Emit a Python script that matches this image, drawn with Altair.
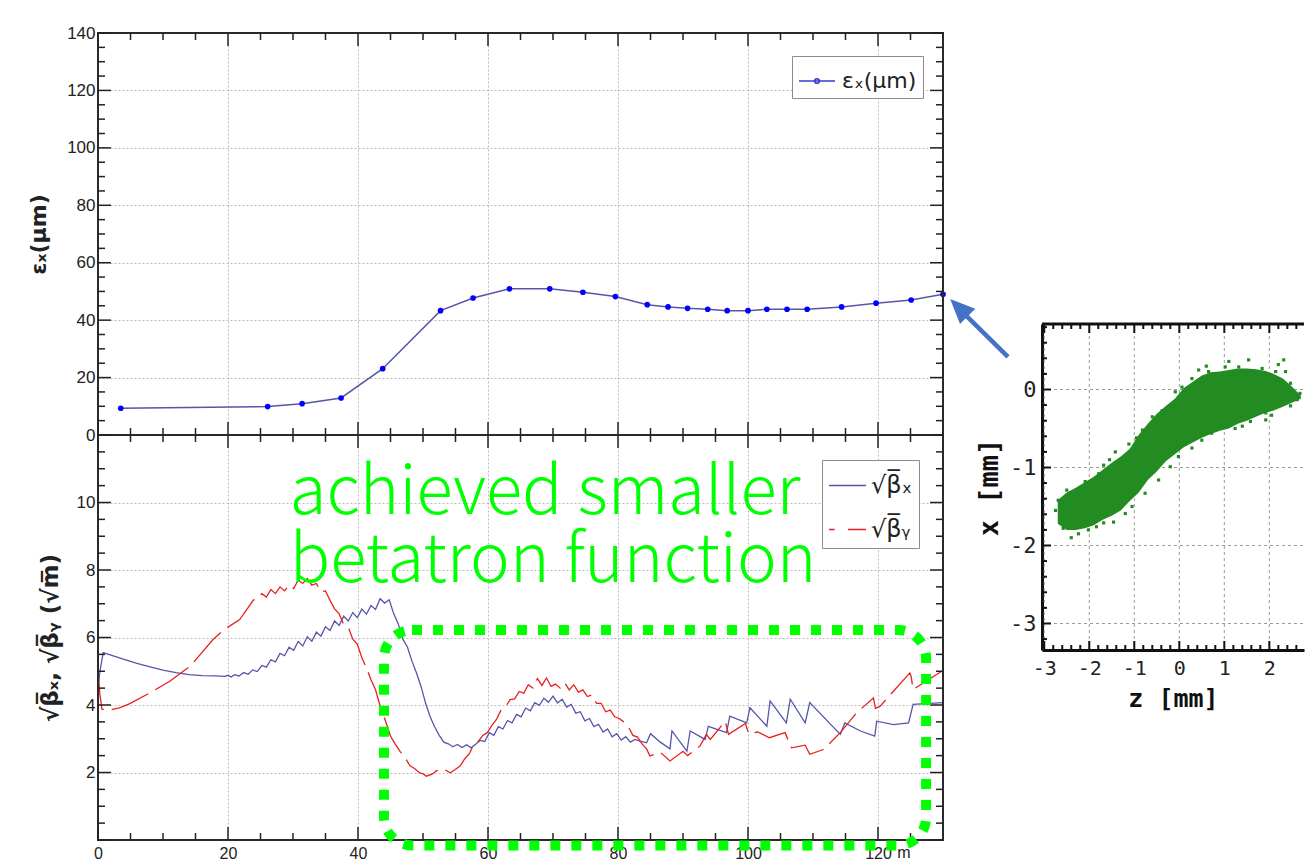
import altair as alt
import pandas as pd

# ---------------- data ----------------
# horizontal emittance along the line (s in m, eps_x in um)
ex_s = [3.5, 26.1, 31.4, 37.4, 43.8, 52.7, 57.7, 63.3, 69.5, 74.6, 79.6, 84.5,
        87.7, 90.7, 93.8, 96.8, 100.0, 102.9, 106.0, 109.1, 114.4, 119.7, 125.1, 130.0]
ex_v = [9.3, 9.9, 10.9, 12.9, 23.1, 43.3, 47.7, 50.9, 50.9, 49.7, 48.2, 45.4,
        44.6, 44.1, 43.8, 43.3, 43.3, 43.8, 43.8, 43.8, 44.6, 45.9, 47.0, 49.0]

# sqrt(beta_x) along the line
bx_s = [0, 0.3, 0.8, 2, 4, 6, 8, 10, 12, 14, 16, 18, 19.5, 20.0, 20.5,
        21.0, 21.7, 22.4, 23.1, 23.8, 24.5, 25.2, 25.9, 26.6, 27.3,
        28.0, 28.7, 29.4, 30.1, 30.8, 31.5, 32.2, 32.9, 33.6, 34.3,
        35.0, 35.7, 36.4, 37.1, 37.8, 38.5, 39.2, 39.9, 40.6, 41.3,
        42.0, 42.7, 43.4, 44.1, 44.8, 45.5, 46.2, 46.9, 47.6, 48.3,
        49.0, 49.7, 50.4, 51.1, 51.8, 52.5, 53.2, 53.9,
        54.6, 55.3, 56.0, 56.7, 57.4, 58.1, 58.8, 59.5,
        60.2, 60.9, 61.6, 62.3, 63.0, 63.7, 64.4, 65.1,
        65.8, 66.5, 67.2, 67.9, 68.6, 69.3, 70.0, 70.7,
        71.4, 72.1, 72.8, 73.5, 74.2, 74.9, 75.6, 76.3,
        77.0, 77.7, 78.4, 79.1, 79.8, 80.5, 81.2, 81.9, 82.6,
        83.4, 84.4, 85.0, 86.5, 88.0, 88.3, 90.6, 91.1, 93.4, 93.9,
        96.7, 97.2, 99.8, 100.3, 102.9, 103.4, 105.9, 106.5, 108.8, 109.5,
        114.2, 114.9, 117.3, 119.5, 119.8, 122.4, 124.7, 125.4, 130.0]
bx_v = [4.5, 5.0, 5.55, 5.48, 5.35, 5.23, 5.13, 5.03, 4.96, 4.9, 4.87, 4.86, 4.85, 4.88, 4.83,
        4.9, 4.86, 4.96, 4.91, 5.04, 4.99, 5.17, 5.12, 5.34, 5.28,
        5.53, 5.46, 5.71, 5.62, 5.88, 5.75, 6.02, 5.89, 6.16, 6.04,
        6.32, 6.21, 6.49, 6.36, 6.63, 6.49, 6.74, 6.59, 6.84, 6.69,
        6.95, 6.83, 7.15, 7.02, 7.12, 6.7, 6.4, 5.95, 5.72, 5.3,
        4.95, 4.55, 4.05, 3.65, 3.35, 3.1, 2.9, 2.85,
        2.76, 2.83, 2.74, 2.82, 2.73, 2.84, 2.95, 2.92,
        3.18, 3.1, 3.36, 3.29, 3.54, 3.47, 3.72, 3.65,
        3.91, 3.83, 4.07, 3.99, 4.2, 4.08, 4.26, 4.06,
        4.17, 3.94, 4.02, 3.76, 3.8, 3.53, 3.6, 3.36,
        3.43, 3.2, 3.29, 3.06, 3.15, 2.96, 3.06, 2.9, 2.98,
        2.93, 2.88, 3.15, 2.9, 2.7, 3.23, 2.63, 3.23, 2.98, 3.37,
        3.18, 3.67, 3.47, 3.92, 3.37, 4.12, 3.47, 4.17, 3.47, 4.07,
        3.13, 3.47, 3.23, 3.08, 3.52, 3.42, 3.47, 4.02, 4.07]

# sqrt(beta_y) along the line
by_s = [0, 0.3, 0.6, 1.8, 3.4, 4.9, 8, 11.1, 14.2, 17.7, 19.3, 21.8, 23.9,
        24.5, 25.2, 25.9, 26.6, 27.3, 28.0, 28.7, 29.4, 30.1, 30.8,
        31.5, 32.2, 32.9, 33.6, 34.3, 35.0, 35.7, 36.4, 37.1, 37.8,
        38.5, 39.2, 39.9, 40.6, 41.3, 42.0, 42.7, 43.4, 44.1,
        45.0, 45.7, 46.5, 47.2, 48.0, 48.7, 49.4, 50.1, 50.5,
        51.4, 52.1, 52.8, 53.5, 54.2, 54.9,
        55.7, 56.4, 57.1, 57.8, 58.5, 59.2, 59.9, 60.6, 61.3, 62.0,
        62.7, 63.4, 64.1, 64.8, 65.5, 66.2, 66.9, 67.6, 68.3, 69.0,
        69.7, 70.4, 71.1, 71.8, 72.5, 73.2, 73.9, 74.6, 75.3, 76.0,
        76.7, 77.4, 78.1, 78.8, 79.5, 80.2, 80.9, 81.6, 82.3, 83.0,
        83.7, 84.4, 84.9,
        86.5, 88.0, 90.0, 90.7, 92.6, 93.6, 94.2, 96.5, 97.0, 99.6,
        100.1, 101.5, 103.3, 105.7, 106.7, 108.8, 109.5, 111.6, 114.2, 116.7,
        119.3, 119.6, 120.3, 124.9, 125.1, 125.4, 129.8]
by_v = [5.0, 4.3, 3.88, 3.85, 3.92, 4.04, 4.36, 4.71, 5.15, 5.94, 6.22, 6.53, 7.11,
        7.15, 7.3, 7.2, 7.42, 7.3, 7.5, 7.38, 7.55, 7.45, 7.7,
        7.6, 7.75, 7.55, 7.6, 7.35, 7.38, 7.1, 6.85, 6.7, 6.38,
        6.3, 5.95, 5.8, 5.4, 5.1, 4.75, 4.45, 3.97, 3.6,
        3.08, 2.85, 2.62, 2.45, 2.2, 2.12, 2.0, 1.95, 1.89,
        1.95, 2.06, 2.02, 2.07, 1.99, 2.08,
        2.19, 2.4, 2.55, 2.82, 2.92, 3.1, 3.18, 3.4, 3.57, 3.85,
        3.95, 4.16, 4.18, 4.4, 4.35, 4.6, 4.5, 4.78, 4.58, 4.8,
        4.55, 4.62, 4.5, 4.66, 4.45, 4.6, 4.38, 4.45, 4.25, 4.3,
        4.05, 4.05, 3.8, 3.85, 3.65, 3.6, 3.5, 3.35, 3.1, 3.05,
        2.85, 2.7, 2.49,
        2.6, 2.34, 2.63, 2.5, 2.78, 3.13, 2.98, 3.52, 3.13, 3.45,
        3.15, 3.2, 3.03, 3.18, 2.73, 2.81, 2.54, 2.68, 3.18, 3.77,
        4.21, 3.9, 3.96, 4.95, 4.85, 4.46, 5.0]

# bunch distribution at the end of the line (z, x in mm): dense core outline + stray particles
cloud_z = [-2.70, -2.50, -2.30, -2.10, -1.90, -1.70, -1.50, -1.30, -1.10, -0.90, -0.70, -0.50, -0.30, -0.10,
           0.10, 0.30, 0.50, 0.70, 0.90, 1.10, 1.30, 1.50, 1.70, 1.90, 2.10, 2.30, 2.50, 2.70]
cloud_top = [-1.42, -1.32, -1.26, -1.19, -1.12, -1.03, -0.94, -0.86, -0.76, -0.58, -0.44, -0.31, -0.21, -0.12,
             0.02, 0.10, 0.18, 0.22, 0.23, 0.25, 0.27, 0.27, 0.26, 0.24, 0.20, 0.14, 0.04, -0.08]
cloud_bot = [-1.72, -1.80, -1.80, -1.78, -1.74, -1.67, -1.62, -1.55, -1.43, -1.32, -1.16, -1.05, -0.92, -0.83,
             -0.74, -0.68, -0.62, -0.57, -0.53, -0.50, -0.44, -0.40, -0.35, -0.30, -0.27, -0.22, -0.17, -0.12]
halo_z = [-2.69, -2.61, -2.65, -2.58, -2.50, -2.24, -2.02, -1.84, -2.09, -1.79,
          -1.68, -1.46, -1.31, -1.42, -1.12, -0.82, -0.60, -0.38, -0.09, 0.06,
          0.28, 0.43, 0.65, 1.02, 1.54, 1.32, 1.84, 2.14, 2.32, 2.36,
          2.47, 2.55, 2.62, 2.47, 2.29, 1.92, 1.92, 1.58, 1.24, 0.95,
          0.72, 0.50, 0.28, -0.02, -0.20, -0.46, -0.76, -1.05, -1.20, -1.68,
          -2.75, -2.40, 2.68, 2.20, 1.10, -0.95, -1.55, 0.60, 2.05, 1.40]
halo_x = [-1.42, -1.53, -1.65, -1.78, -1.29, -1.85, -1.80, -1.76, -1.18, -1.08,
          -0.97, -1.70, -1.46, -0.80, -0.70, -0.52, -0.35, -0.27, -0.03, 0.03,
          0.14, 0.25, 0.23, 0.29, 0.38, 0.29, 0.27, 0.23, 0.38, 0.23,
          0.08, -0.04, -0.13, -0.21, -0.13, -0.30, -0.39, -0.41, -0.50, -0.48,
          -0.56, -0.65, -0.75, -0.86, -0.99, -1.16, -1.33, -1.50, -1.59, -1.71,
          -1.55, -1.90, -0.05, 0.32, 0.36, -0.62, -0.90, 0.30, -0.33, -0.47]

# tick positions
S_MAJOR = [0, 20, 40, 60, 80, 100, 120]
S_MINOR = [5, 10, 15, 25, 30, 35, 45, 50, 55, 65, 70, 75, 85, 90, 95, 105, 110, 115, 125]
EX_MAJOR = [0, 20, 40, 60, 80, 100, 120, 140]
EX_MINOR = [5, 10, 15, 25, 30, 35, 45, 50, 55, 65, 70, 75, 85, 90, 95, 105, 110, 115, 125, 130, 135]
B_MAJOR = [0, 2, 4, 6, 8, 10, 12]
B_LABELS = [2, 4, 6, 8, 10]
B_MINOR = [0.5, 1, 1.5, 2.5, 3, 3.5, 4.5, 5, 5.5, 6.5, 7, 7.5, 8.5, 9, 9.5, 10.5, 11, 11.5]
Z_MAJOR = [-3, -2, -1, 0, 1, 2]
Z_MINOR = [-2.8, -2.6, -2.4, -2.2, -1.8, -1.6, -1.4, -1.2, -0.8, -0.6, -0.4, -0.2,
           0.2, 0.4, 0.6, 0.8, 1.2, 1.4, 1.6, 1.8, 2.2, 2.4, 2.6]
X_MAJOR = [-3, -2, -1, 0]
X_MINOR = [-3.2, -2.8, -2.6, -2.4, -2.2, -1.8, -1.6, -1.4, -1.2, -0.8, -0.6, -0.4, -0.2,
           0.2, 0.4, 0.6, 0.8]

# annotation anchors (in data units of the panel they sit on)
NOTE_S, NOTE_V = 29.5, 9.67
BOX = dict(s1=[44.0], s2=[127.4], v1=[6.22], v2=[-0.16])
ARROW_TAIL = (140.0, 27.2)
ARROW_NECK = (133.6, 41.5)
ARROW_TIP = (131.1, 47.4)

# ---------------- layout (pixel boxes of the three panels) ----------------
PW = 845                      # width of the two stacked panels
TOP_Y0, TOP_Y1 = 0, 402       # emittance panel
BOT_Y0, BOT_Y1 = 402, 807     # beta panel
INS_X0, INS_X1 = 944, 1206    # bunch inset
INS_Y0, INS_Y1 = 291, 617
WT, HT = INS_X1, BOT_Y1

LABEL_FONT = "Liberation Sans"
SYM_FONT = "DejaVu Sans"
MONO = "DejaVu Sans Mono"
INK = "#222222"
BLUE_LINE = "#5656a8"
RED_LINE = "#e82020"
GREEN = "#00ff00"
BUNCH = "#228b22"

s_scale = alt.Scale(domain=[0, 130], range=[0, PW], nice=False, zero=False)
ex_scale = alt.Scale(domain=[0, 140], range=[TOP_Y1, TOP_Y0], nice=False, zero=False)
b_scale = alt.Scale(domain=[0, 12], range=[BOT_Y1, BOT_Y0], nice=False, zero=False)
z_scale = alt.Scale(domain=[-3.05, 2.77], range=[INS_X0, INS_X1], nice=False, zero=False)
x_scale = alt.Scale(domain=[-3.34, 0.84], range=[INS_Y1, INS_Y0], nice=False, zero=False)

LINE_DOT = "M-1,0H1M-0.13,0A0.13,0.13,0,1,0,0.13,0A0.13,0.13,0,1,0,-0.13,0Z"
SOLID = "M-1,0H1"
DASHED = "M-1,0H-0.69M0.03,0H1"
HEAD = "M0,0L-0.72,1.65L0.72,1.65Z"


def frame_ticks(xmaj, xmin, ymaj, ymin, xsc, ysc, box, big, small, sides, color=INK, sw=1.5):
    """Inward-pointing tick marks along the chosen sides of a panel box (x0, x1, y0, y1)."""
    x0, x1, y0, y1 = box
    out = []
    for vals, ln in ((xmaj, big), (xmin, small)):
        base = alt.Chart(pd.DataFrame({"v": vals})).mark_rule(color=color, strokeWidth=sw)
        xe = alt.X("v:Q", scale=xsc, axis=None)
        if "bottom" in sides:
            out.append(base.encode(x=xe, y=alt.value(y1), y2=alt.value(y1 - ln)))
        if "top" in sides:
            out.append(base.encode(x=xe, y=alt.value(y0), y2=alt.value(y0 + ln)))
    for vals, ln in ((ymaj, big), (ymin, small)):
        base = alt.Chart(pd.DataFrame({"v": vals})).mark_rule(color=color, strokeWidth=sw)
        ye = alt.Y("v:Q", scale=ysc, axis=None)
        if "left" in sides:
            out.append(base.encode(y=ye, x=alt.value(x0), x2=alt.value(x0 + ln)))
        if "right" in sides:
            out.append(base.encode(y=ye, x=alt.value(x1), x2=alt.value(x1 - ln)))
    return out


ALL_SIDES = ("left", "right", "bottom", "top")

# ---------------- emittance panel ----------------
df_ex = pd.DataFrame({"s": ex_s, "e": ex_v})

ex_line = alt.Chart(df_ex).mark_line(color=BLUE_LINE, strokeWidth=1.5).encode(
    x=alt.X("s:Q", scale=s_scale,
            axis=alt.Axis(orient="bottom", offset=TOP_Y1 - HT, values=S_MAJOR, labels=False,
                          ticks=False, domain=False, grid=True, title=None)),
    y=alt.Y("e:Q", scale=ex_scale,
            axis=alt.Axis(orient="left", values=EX_MAJOR, ticks=False, domain=False, grid=True,
                          labelFont=LABEL_FONT, labelFontSize=17, labelColor=INK,
                          labelPadding=3, title="εₓ(μm)", titleFont=SYM_FONT, titleFontSize=22,
                          titleFontWeight="bold", titleColor=INK, titlePadding=16)),
)
ex_pts = alt.Chart(df_ex).mark_circle(color="#0000ff", size=32, opacity=1).encode(
    x=alt.X("s:Q", scale=s_scale, axis=None),
    y=alt.Y("e:Q", scale=ex_scale, axis=None),
)
ex_frame = alt.Chart(pd.DataFrame({"s1": [0], "s2": [130], "v1": [0], "v2": [140]})).mark_rect(
    filled=False, color="#2a2a2a", strokeWidth=2
).encode(
    x=alt.X("s1:Q", scale=s_scale, axis=None), x2="s2:Q",
    y=alt.Y("v1:Q", scale=ex_scale, axis=None), y2="v2:Q",
)
ex_key = alt.Chart(pd.DataFrame({"name": ["εₓ(μm)"]})).mark_point(
    opacity=0, filled=False, color="#3a3ad0", strokeWidth=1.5
).encode(
    shape=alt.Shape("name:N", scale=alt.Scale(range=[LINE_DOT]),
                    legend=alt.Legend(title=None, orient="none", legendX=694, legendY=23,
                                      padding=6, strokeColor="#8c8c8c", fillColor="white",
                                      symbolSize=1296, symbolOpacity=1, symbolStrokeWidth=1.5,
                                      labelFont=SYM_FONT, labelFontSize=22, labelColor=INK,
                                      labelOffset=6)),
    x=alt.value(0), y=alt.value(0),
)

arrow_df = pd.DataFrame({"s": [ARROW_TAIL[0]], "v": [ARROW_TAIL[1]],
                         "s2": [ARROW_NECK[0]], "v2": [ARROW_NECK[1]]})
arrow_shaft = alt.Chart(arrow_df).mark_rule(color="#4472c4", strokeWidth=4.5).encode(
    x=alt.X("s:Q", scale=s_scale, axis=None), x2="s2:Q",
    y=alt.Y("v:Q", scale=ex_scale, axis=None), y2="v2:Q",
)
arrow_head = alt.Chart(pd.DataFrame({"s": [ARROW_TIP[0]], "v": [ARROW_TIP[1]]})).mark_point(
    shape=HEAD, size=900, angle=315, filled=True, color="#4472c4", opacity=1
).encode(
    x=alt.X("s:Q", scale=s_scale, axis=None),
    y=alt.Y("v:Q", scale=ex_scale, axis=None),
)
# pins the page origin so the panels sit at fixed offsets
origin = alt.Chart(pd.DataFrame({"a": [0]})).mark_rule(opacity=0).encode(
    x=alt.value(-98), x2=alt.value(-97), y=alt.value(-33)
)

# ---------------- beta panel ----------------
df_bx = pd.DataFrame({"s": bx_s, "b": bx_v})
df_by = pd.DataFrame({"s": by_s, "b": by_v})

bx_line = alt.Chart(df_bx).mark_line(color=BLUE_LINE, strokeWidth=1.3).encode(
    x=alt.X("s:Q", scale=s_scale,
            axis=alt.Axis(orient="bottom", values=S_MAJOR, ticks=False, domain=False, grid=True,
                          labelFont=LABEL_FONT, labelFontSize=16, labelColor=INK,
                          labelPadding=5, labelFlush=False, title=None)),
    y=alt.Y("b:Q", scale=b_scale,
            axis=alt.Axis(orient="left", values=B_LABELS, ticks=False, domain=False, grid=True,
                          labelFont=LABEL_FONT, labelFontSize=17, labelColor=INK,
                          labelPadding=3, title="√β̅ₓ, √β̅ᵧ (√m̅)", titleFont=SYM_FONT,
                          titleFontSize=23, titleFontWeight="bold", titleColor=INK,
                          titlePadding=14)),
)
by_line = alt.Chart(df_by).mark_line(color=RED_LINE, strokeWidth=1.3, strokeDash=[40, 8]).encode(
    x=alt.X("s:Q", scale=s_scale, axis=None),
    y=alt.Y("b:Q", scale=b_scale, axis=None),
)
b_frame = alt.Chart(pd.DataFrame({"s1": [0], "s2": [130], "v1": [0], "v2": [12]})).mark_rect(
    filled=False, color="#2a2a2a", strokeWidth=2
).encode(
    x=alt.X("s1:Q", scale=s_scale, axis=None), x2="s2:Q",
    y=alt.Y("v1:Q", scale=b_scale, axis=None), y2="v2:Q",
)
unit_m = alt.Chart(pd.DataFrame({"s": [124.0]})).mark_text(
    text="m", font=LABEL_FONT, fontSize=16, color=INK, baseline="top", align="center"
).encode(x=alt.X("s:Q", scale=s_scale, axis=None), y=alt.value(BOT_Y1 + 5))

beta_names = ["√β̅ₓ", "√β̅ᵧ"]
beta_legend = alt.Legend(title=None, orient="none", legendX=724, legendY=BOT_Y0 + 25,
                         padding=6, strokeColor="#8c8c8c", fillColor="white",
                         symbolSize=1369, symbolOpacity=1, symbolStrokeWidth=1.3,
                         labelFont=SYM_FONT, labelFontSize=24, labelColor=INK,
                         labelOffset=4, rowPadding=12)
beta_key = alt.Chart(pd.DataFrame({"name": beta_names})).mark_point(
    opacity=0, filled=False, strokeWidth=1.3
).encode(
    color=alt.Color("name:N", sort=beta_names,
                    scale=alt.Scale(domain=beta_names, range=[BLUE_LINE, RED_LINE]),
                    legend=beta_legend),
    shape=alt.Shape("name:N", sort=beta_names,
                    scale=alt.Scale(domain=beta_names, range=[SOLID, DASHED]),
                    legend=beta_legend),
    x=alt.value(0), y=alt.value(0),
)

note = alt.Chart(pd.DataFrame({"s": [NOTE_S], "v": [NOTE_V]})).mark_text(
    text=["achieved smaller", "betatron function"], align="left", baseline="alphabetic",
    font="Noto Sans CJK JP", fontSize=67, fontWeight=300, lineHeight=68, color=GREEN
).encode(x=alt.X("s:Q", scale=s_scale, axis=None), y=alt.Y("v:Q", scale=b_scale, axis=None))

box = alt.Chart(pd.DataFrame(BOX)).mark_rect(
    filled=False, color=GREEN, strokeWidth=10, strokeDash=[10, 11], cornerRadius=28
).encode(
    x=alt.X("s1:Q", scale=s_scale, axis=None), x2="s2:Q",
    y=alt.Y("v1:Q", scale=b_scale, axis=None), y2="v2:Q",
)

# ---------------- bunch inset ----------------
minus_fix = "datum.value < 0 ? '-' + format(-datum.value, 'd') : format(datum.value, 'd')"
df_core = pd.DataFrame({"z": cloud_z, "top": cloud_top, "bot": cloud_bot})
df_halo = pd.DataFrame({"z": halo_z, "x": halo_x})

ins_grid_v = alt.Chart(pd.DataFrame({"v": Z_MAJOR})).mark_rule(
    color="#9a9a9a", strokeWidth=1, strokeDash=[3, 3]
).encode(x=alt.X("v:Q", scale=z_scale, axis=None), y=alt.value(INS_Y0), y2=alt.value(INS_Y1))
ins_grid_h = alt.Chart(pd.DataFrame({"v": X_MAJOR})).mark_rule(
    color="#9a9a9a", strokeWidth=1, strokeDash=[3, 3]
).encode(y=alt.Y("v:Q", scale=x_scale, axis=None), x=alt.value(INS_X0), x2=alt.value(INS_X1))

core = alt.Chart(df_core).mark_area(color=BUNCH, opacity=1).encode(
    x=alt.X("z:Q", scale=z_scale,
            axis=alt.Axis(orient="bottom", offset=INS_Y1 - HT, values=Z_MAJOR, ticks=False,
                          domain=True, domainColor="#111", domainWidth=3, grid=False,
                          labelExpr=minus_fix, labelFont=MONO, labelFontSize=20,
                          labelColor=INK, labelPadding=8, labelFlush=False,
                          title="z [mm]", titleFont=MONO, titleFontSize=25,
                          titleFontWeight="bold", titleColor="#111", titlePadding=8)),
    y=alt.Y("top:Q", scale=x_scale,
            axis=alt.Axis(orient="left", offset=-INS_X0, values=X_MAJOR, ticks=False,
                          domain=True, domainColor="#111", domainWidth=3, grid=False,
                          labelExpr=minus_fix, labelFont=MONO, labelFontSize=22,
                          labelColor=INK, labelPadding=6, labelFlush=False,
                          title="x [mm]", titleFont=MONO, titleFontSize=27,
                          titleFontWeight="bold", titleColor="#111", titlePadding=6)),
    y2="bot:Q",
)
halo = alt.Chart(df_halo).mark_square(color=BUNCH, size=10, opacity=1).encode(
    x=alt.X("z:Q", scale=z_scale, axis=None),
    y=alt.Y("x:Q", scale=x_scale, axis=None),
)
ins_top = alt.Chart(pd.DataFrame({"z1": [-3.05], "z2": [2.77], "x": [0.84]})).mark_rule(
    color="#111", strokeWidth=3
).encode(
    x=alt.X("z1:Q", scale=z_scale, axis=None), x2="z2:Q",
    y=alt.Y("x:Q", scale=x_scale, axis=None),
)

chart = alt.layer(
    ex_line, ex_pts, ex_frame,
    *frame_ticks(S_MAJOR, S_MINOR, EX_MAJOR, EX_MINOR, s_scale, ex_scale,
                 (0, PW, TOP_Y0, TOP_Y1), 13, 7, ALL_SIDES),
    bx_line, by_line, b_frame,
    *frame_ticks(S_MAJOR, S_MINOR, B_MAJOR, B_MINOR, s_scale, b_scale,
                 (0, PW, BOT_Y0, BOT_Y1), 13, 7, ALL_SIDES),
    unit_m, note, box,
    ins_grid_v, ins_grid_h, core, halo, ins_top,
    *frame_ticks(Z_MAJOR, Z_MINOR, X_MAJOR, X_MINOR, z_scale, x_scale,
                 (INS_X0, INS_X1, INS_Y0, INS_Y1), 9, 5, ("left", "bottom", "top"),
                 color="#111", sw=2),
    ex_key, beta_key, arrow_shaft, arrow_head, origin,
).resolve_scale(
    x="independent", y="independent", color="independent", shape="independent"
).resolve_legend(
    color="independent", shape="independent"
).properties(
    width=WT, height=HT, padding=0, background="white"
).configure_view(
    stroke="transparent"
).configure_axis(
    gridColor="#bdbdbd", gridDash=[2, 2], gridWidth=1
)

chart.save("out.html", embed_options={"renderer": "svg", "actions": False})
